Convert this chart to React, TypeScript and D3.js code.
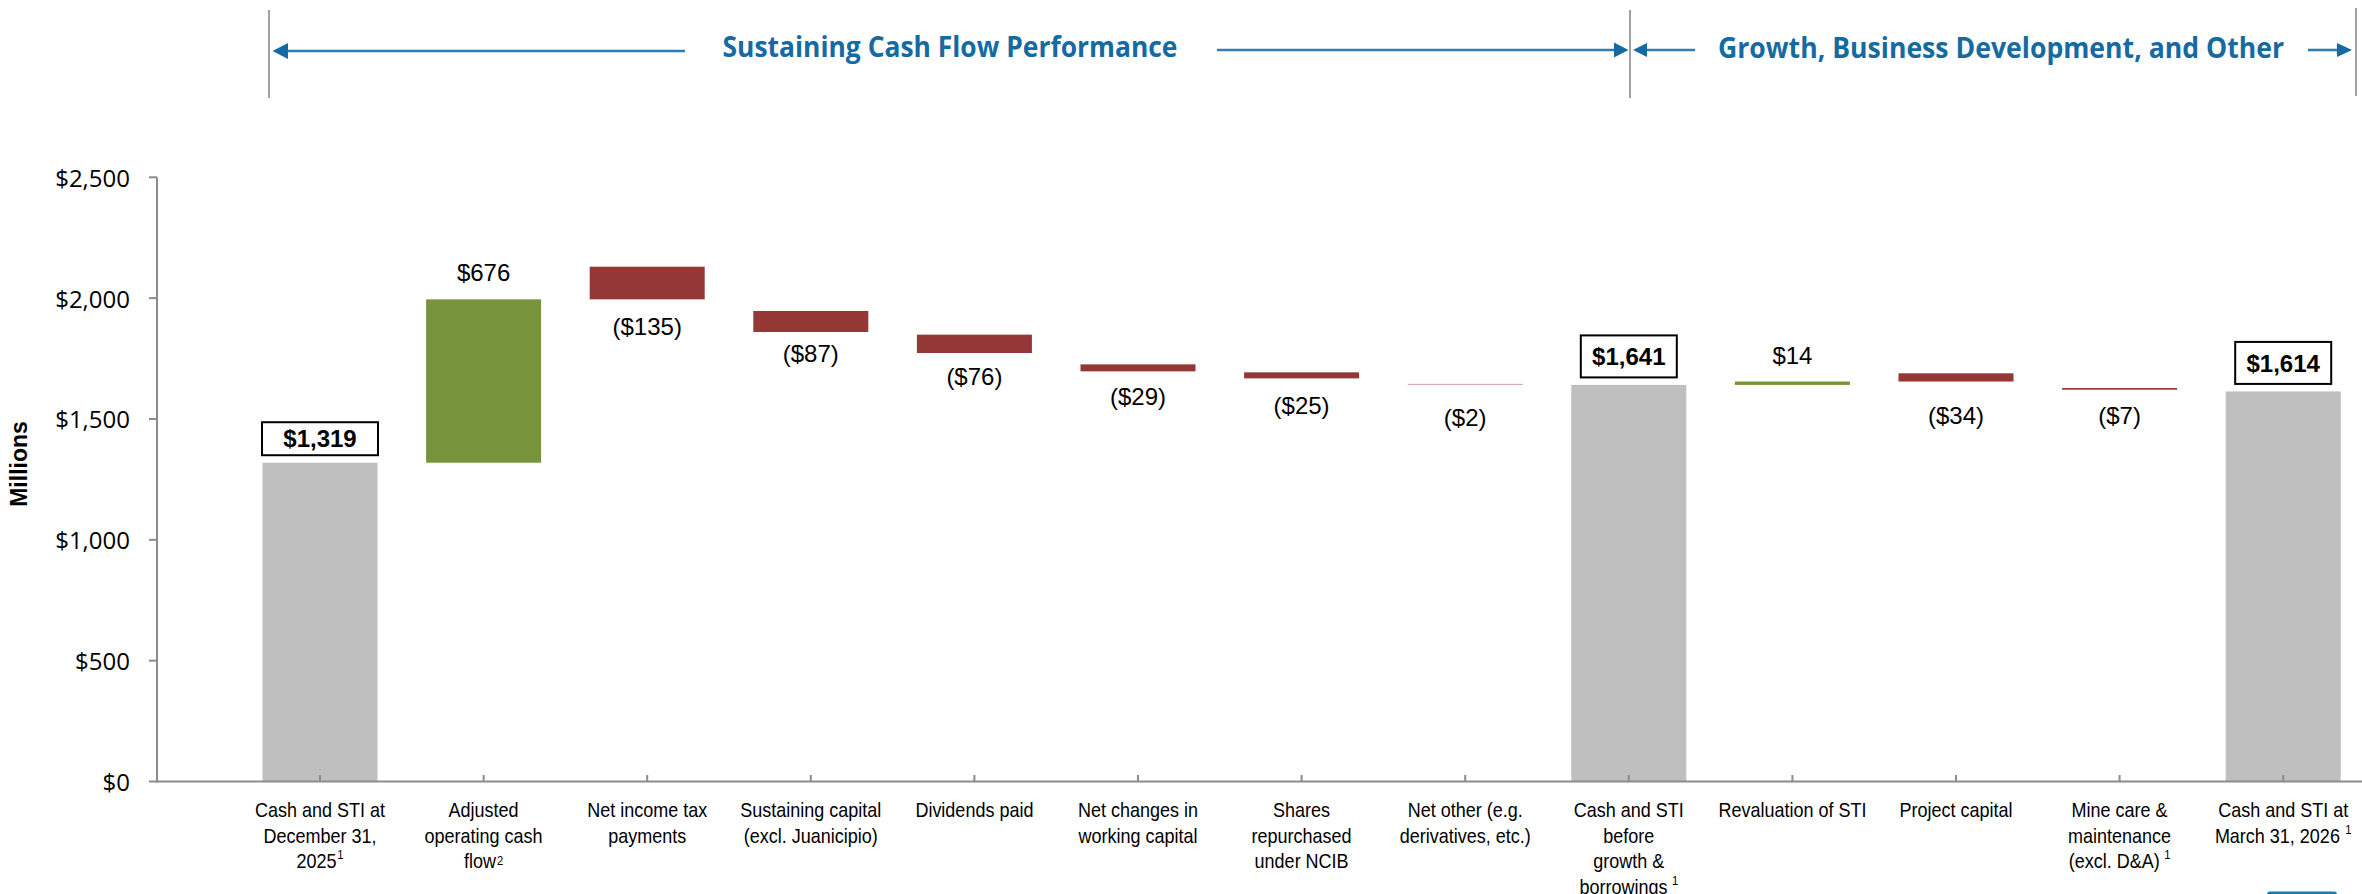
import React from "react";
import * as d3 from "d3";

// ---------- data ----------
const categoryLines: string[][] = [
  ["Cash and STI at", "December 31,", "2025"],
  ["Adjusted", "operating cash", "flow"],
  ["Net income tax", "payments"],
  ["Sustaining capital", "(excl. Juanicipio)"],
  ["Dividends paid"],
  ["Net changes in", "working capital"],
  ["Shares", "repurchased", "under NCIB"],
  ["Net other (e.g.", "derivatives, etc.)"],
  ["Cash and STI", "before", "growth &", "borrowings"],
  ["Revaluation of STI"],
  ["Project capital"],
  ["Mine care &", "maintenance", "(excl. D&A)"],
  ["Cash and STI at", "March 31, 2026"],
];
const footnotes = ["1", "2", "", "", "", "", "", "", "1", "", "", "1", "1"];
const values = [1319, 676, -135, -87, -76, -29, -25, -2, 1641, 14, -34, -7, 1614];
const isTotal = [true, false, false, false, false, false, false, false, true, false, false, false, true];
const yTicks = [0, 500, 1000, 1500, 2000, 2500];
const sectionTitles = ["Sustaining Cash Flow Performance", "Growth, Business Development, and Other"];

// ---------- styles / layout ----------
const W = 2362;
const H = 894;
const GREY = "#BFBFBF";
const GREEN = "#77933C";
const RED = "#953735";
const AXIS = "#8C8C8C";
const BLUE = "#156AA2";
const BLUE_LINE = "#2F7DB2";
// small vertical nudges (px) of the negative-value labels, as placed in the source slide
const negLabelNudge = [0, 0, 0, -6, -4, -2, 0, 6, 0, 0, 6, -2, 0];
// gap (px) before the footnote marker
const supGap = [1, 1, 0, 0, 0, 0, 0, 0, 5, 0, 0, 5, 6];

const fmt = d3.format(",");

export default function App() {
  const y = d3.scaleLinear().domain([0, 2500]).range([781.5, 177.3]);
  const n = values.length;
  const x = d3
    .scaleBand<number>()
    .domain(d3.range(n))
    .range([238.2, 238.2 + 163.6 * n])
    .paddingInner(0.297)
    .paddingOuter(0.1485);
  const bw = x.bandwidth();

  // waterfall segments (as drawn in the reference)
  let running = 0;
  const bars = values.map((v, i) => {
    let lo: number, hi: number, color: string;
    if (isTotal[i]) {
      lo = 0;
      hi = v;
      running = v;
      color = GREY;
    } else if (v >= 0) {
      lo = running;
      hi = running + v;
      running += v;
      color = GREEN;
    } else {
      lo = running;
      hi = running - v;
      running += v;
      color = RED;
    }
    return { i, v, lo, hi, color };
  });

  const axisLeft = 157;
  const axisY = y(0);

  const boxDims = (i: number) => (i === 0 ? { w: 116, h: 33 } : { w: 96, h: 42 });

  const labelFont = "'Liberation Sans', Arial, sans-serif";

  return (
    <svg
      width={W}
      height={H}
      viewBox={`0 0 ${W} ${H}`}
      style={{ position: "absolute", left: 0, top: 0, display: "block", background: "#fff" }}
    >
      <rect x={0} y={0} width={W} height={H} fill="#fff" />

      {/* ---------- header ---------- */}
      <g>
        <line x1={269} x2={269} y1={10} y2={98} stroke="#8a8a8a" strokeWidth={1.6} />
        <line x1={1630} x2={1630} y1={10} y2={98} stroke="#8a8a8a" strokeWidth={1.6} />
        <line x1={2356} x2={2356} y1={8} y2={96} stroke="#8a8a8a" strokeWidth={1.6} />

        {/* left section arrows */}
        <line x1={286} x2={685} y1={51} y2={51} stroke={BLUE_LINE} strokeWidth={2.6} />
        <path d="M272.5,51 L288,43 L288,59 Z" fill={BLUE} />
        <line x1={1217} x2={1614} y1={50} y2={50} stroke={BLUE_LINE} strokeWidth={2.6} />
        <path d="M1628.5,50 L1614,42.5 L1614,57.5 Z" fill={BLUE} />
        <text
          x={950}
          y={57}
          textAnchor="middle"
          fontFamily="'Open Sans', sans-serif"
          fontWeight={700}
          fontSize={28}
          fill={BLUE}
          textLength={455}
          lengthAdjust="spacingAndGlyphs"
        >
          {sectionTitles[0]}
        </text>

        {/* right section arrows */}
        <line x1={1645} x2={1695} y1={50} y2={50} stroke={BLUE_LINE} strokeWidth={2.6} />
        <path d="M1633,50 L1647,43 L1647,57 Z" fill={BLUE} />
        <line x1={2308} x2={2338} y1={50} y2={50} stroke={BLUE_LINE} strokeWidth={2.6} />
        <path d="M2352,50 L2337,43 L2337,57 Z" fill={BLUE} />
        <text
          x={2001}
          y={57.5}
          textAnchor="middle"
          fontFamily="'Open Sans', sans-serif"
          fontWeight={700}
          fontSize={28}
          fill={BLUE}
          textLength={566}
          lengthAdjust="spacingAndGlyphs"
        >
          {sectionTitles[1]}
        </text>
      </g>

      {/* ---------- y axis ---------- */}
      <text
        transform={`translate(19,464) rotate(-90)`}
        textAnchor="middle"
        dominantBaseline="central"
        fontFamily={labelFont}
        fontWeight={700}
        fontSize={23}
        fill="#000"
      >
        Millions
      </text>
      <line x1={axisLeft} x2={axisLeft} y1={y(2500)} y2={axisY + 1} stroke={AXIS} strokeWidth={2} />
      {yTicks.map((t) => (
        <g key={t}>
          <line x1={axisLeft - 8} x2={axisLeft} y1={y(t)} y2={y(t)} stroke={AXIS} strokeWidth={2} />
          <text
            x={130}
            y={y(t)}
            textAnchor="end"
            dominantBaseline="central"
            fontFamily="'Open Sans', sans-serif"
            fontSize={24}
            fill="#000"
          >
            {"$" + fmt(t)}
          </text>
        </g>
      ))}

      {/* ---------- bars ---------- */}
      {bars.map((b) => (
        <rect
          key={b.i}
          x={x(b.i)!}
          y={y(b.hi)}
          width={bw}
          height={Math.max(0, y(b.lo) - y(b.hi))}
          fill={b.color}
        />
      ))}

      {/* ---------- x axis ---------- */}
      <line x1={axisLeft} x2={W} y1={axisY} y2={axisY} stroke={AXIS} strokeWidth={2.2} />
      {bars.map((b) => {
        const cx = x(b.i)! + bw / 2;
        return <line key={b.i} x1={cx} x2={cx} y1={axisY - 6.5} y2={axisY} stroke={AXIS} strokeWidth={2} />;
      })}

      {/* ---------- value labels ---------- */}
      {bars.map((b) => {
        const cx = x(b.i)! + bw / 2;
        if (isTotal[b.i]) {
          const { w, h } = boxDims(b.i);
          const bottom = y(b.hi) - 7.5;
          return (
            <g key={b.i}>
              <rect x={cx - w / 2} y={bottom - h} width={w} height={h} fill="#fff" stroke="#000" strokeWidth={2} />
              <text
                x={cx}
                y={bottom - h / 2 + 8.6}
                textAnchor="middle"
                fontFamily={labelFont}
                fontWeight={700}
                fontSize={24}
                fill="#000"
              >
                {"$" + fmt(b.v)}
              </text>
            </g>
          );
        }
        if (b.v >= 0) {
          return (
            <text
              key={b.i}
              x={cx}
              y={y(b.hi) - 18}
              textAnchor="middle"
              fontFamily={labelFont}
              fontSize={24}
              fill="#000"
            >
              {"$" + fmt(b.v)}
            </text>
          );
        }
        return (
          <text
            key={b.i}
            x={cx}
            y={y(b.lo) + 36 + negLabelNudge[b.i]}
            textAnchor="middle"
            fontFamily={labelFont}
            fontSize={24}
            fill="#000"
          >
            {"($" + fmt(-b.v) + ")"}
          </text>
        );
      })}

      {/* ---------- category labels ---------- */}
      {categoryLines.map((lines, i) => {
        const cx = x(i)! + bw / 2;
        return (
          <g key={i}>
            {lines.map((ln, j) => {
              const last = j === lines.length - 1;
              const sup = last ? footnotes[i] : "";
              return (
                <text
                  key={j}
                  transform={`translate(${cx},${816.7 + j * 25.8}) scale(0.9,1)`}
                  textAnchor="middle"
                  fontFamily={labelFont}
                  fontSize={20}
                  fill="#000"
                >
                  {ln}
                  {sup && (
                    <tspan fontSize={12.5} dy={sup === "2" ? -3 : -9} dx={supGap[i]}>
                      {sup}
                    </tspan>
                  )}
                </text>
              );
            })}
          </g>
        );
      })}

      {/* page element cut at bottom right */}
      <rect x={2267} y={891.5} width={70} height={10} rx={3} fill="#1F78B4" />
    </svg>
  );
}
